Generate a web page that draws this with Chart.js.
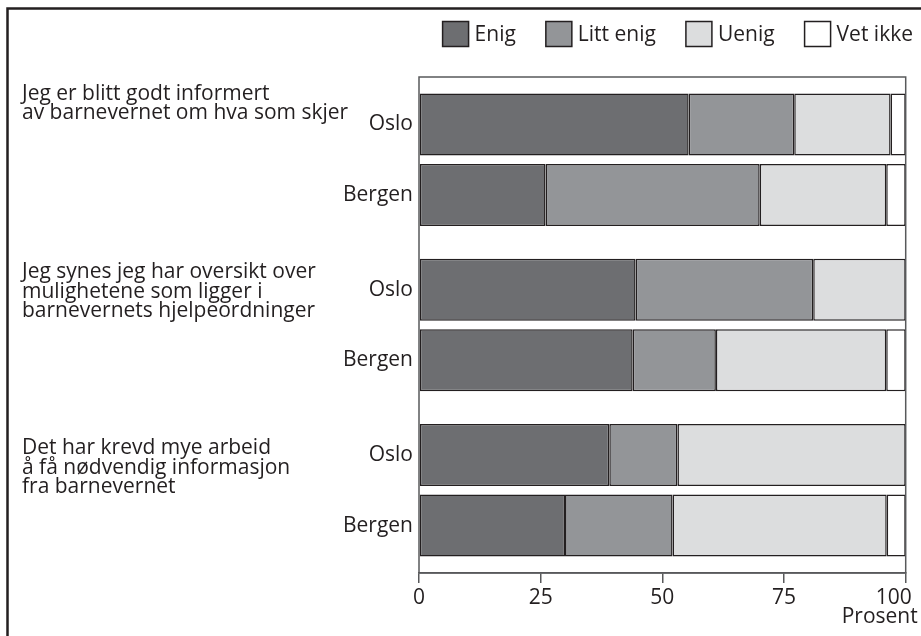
<!DOCTYPE html>
<html>
<head>
<meta charset="utf-8">
<script src="https://cdn.jsdelivr.net/npm/chart.js@4/dist/chart.umd.min.js"></script>
<style>
  html, body { margin: 0; padding: 0; background: #fff; }
  #wrap { width: 921px; height: 636px; }
</style>
</head>
<body>
<div id="wrap"><canvas id="chart" width="921" height="636"></canvas></div>
<script>
const questions = [
  ['Jeg er blitt godt informert', 'av barnevernet om hva som skjer'],
  ['Jeg synes jeg har oversikt over', 'mulighetene som ligger i', 'barnevernets hjelpeordninger'],
  ['Det har krevd mye arbeid', 'å få nødvendig informasjon', 'fra barnevernet']
];
const cities = ['Oslo', 'Bergen'];
const responses = ['Enig', 'Litt enig', 'Uenig', 'Vet ikke'];
const colors = ['#6d6e71', '#939598', '#dcddde', '#ffffff'];

// percent per response (Enig, Litt enig, Uenig, Vet ikke), one value per question
const osloValues = [
  [55.4, 44.5, 39.1],
  [21.7, 36.5, 14.0],
  [19.8, 19.0, 46.9],
  [3.1, 0, 0]
];
const bergenValues = [
  [26.0, 43.9, 30.0],
  [44.0, 17.1, 22.1],
  [26.0, 35.0, 44.0],
  [4.0, 4.0, 3.9]
];
const xTicks = [0, 25, 50, 75, 100];
const xTitle = 'Prosent';

const ink = '#231f20';
const fontSize = 21;
Chart.defaults.font.family = "'Open Sans', sans-serif";
Chart.defaults.font.size = fontSize;
Chart.defaults.color = ink;

const datasets = [];
responses.forEach((r, i) => {
  [osloValues, bergenValues].forEach((vals, c) => {
    datasets.push({
      label: r,
      stack: cities[c],
      data: vals[i],
      backgroundColor: colors[i],
      borderColor: ink,
      borderWidth: 1.5,
      borderSkipped: false,
      categoryPercentage: 0.853,
      barPercentage: 0.88
    });
  });
});

// frame, legend, question text, city names and axis title
const decorations = {
  id: 'decorations',
  beforeDraw(chart) {
    const ctx = chart.ctx;
    ctx.save();
    ctx.fillStyle = '#fff';
    ctx.fillRect(0, 0, chart.width, chart.height);
    ctx.strokeStyle = ink;
    ctx.lineWidth = 2.5;
    ctx.strokeRect(7.5, 8.5, chart.width + 20, chart.height + 20);
    ctx.restore();
  },
  afterDatasetsDraw(chart, args, opts) {
    const ctx = chart.ctx;
    const area = chart.chartArea;
    const yScale = chart.scales.y;
    ctx.save();

    ctx.strokeStyle = '#58595b';
    ctx.lineWidth = 1.5;
    ctx.strokeRect(area.left, area.top, area.right - area.left, area.bottom - area.top);

    ctx.fillStyle = ink;
    ctx.font = fontSize + "px 'Open Sans', sans-serif";

    // city names next to each bar
    ctx.textAlign = 'right';
    ctx.textBaseline = 'middle';
    cities.forEach((city, c) => {
      const meta = chart.getDatasetMeta(c);
      meta.data.forEach(bar => ctx.fillText(city, area.left - 6, bar.y));
    });

    // axis title under the last tick
    ctx.textBaseline = 'alphabetic';
    ctx.fillText(xTitle, area.right + 12, 623);

    // question text, top left of each group
    ctx.textAlign = 'left';
    questions.forEach((lines, q) => {
      const y0 = yScale.getPixelForValue(q) + opts.questionOffsets[q];
      lines.forEach((line, k) => ctx.fillText(line, 22, y0 + k * 19.5));
    });

    // legend, right aligned
    const items = chart.data.datasets.filter(d => d.stack === cities[0]);
    const box = 26, gapText = 6, gapItem = 30;
    const widths = items.map(d => box + gapText + ctx.measureText(d.label).width);
    let x = 913 - widths.reduce((a, b) => a + b, 0) - gapItem * (items.length - 1);
    ctx.textBaseline = 'middle';
    items.forEach((d, i) => {
      ctx.fillStyle = d.backgroundColor;
      ctx.fillRect(x, 21.5, box, 25);
      ctx.strokeStyle = ink;
      ctx.lineWidth = 1.5;
      ctx.strokeRect(x, 21.5, box, 25);
      ctx.fillStyle = ink;
      ctx.fillText(d.label, x + box + gapText, 35);
      x += widths[i] + gapItem;
    });
    ctx.restore();
  }
};

new Chart(document.getElementById('chart'), {
  type: 'bar',
  data: { labels: questions.map(q => q.join(' ')), datasets },
  options: {
    indexAxis: 'y',
    responsive: false,
    animation: false,
    layout: { padding: { left: 419, top: 77, right: 15, bottom: 0 } },
    scales: {
      x: {
        stacked: true,
        min: 0,
        max: 100,
        afterBuildTicks: s => { s.ticks = xTicks.map(v => ({ value: v })); },
        afterFit: s => { s.height = 63; s.paddingRight = 15.3; },
        grid: { drawOnChartArea: false, drawTicks: true, tickLength: 10, color: '#58595b', lineWidth: 1.5 },
        border: { display: true, color: '#58595b', width: 1.5 },
        ticks: {
          padding: 2,
          color: ink,
          // keep the last label inside the frame
          callback: (v, i, ticks) => i === ticks.length - 1 ? v + '\u2007\u2007' : v
        }
      },
      y: {
        stacked: true,
        display: false
      }
    },
    plugins: {
      legend: { display: false },
      tooltip: { enabled: false },
      decorations: { questionOffsets: [-60, -47, -36] }
    }
  },
  plugins: [decorations]
});
</script>
</body>
</html>
